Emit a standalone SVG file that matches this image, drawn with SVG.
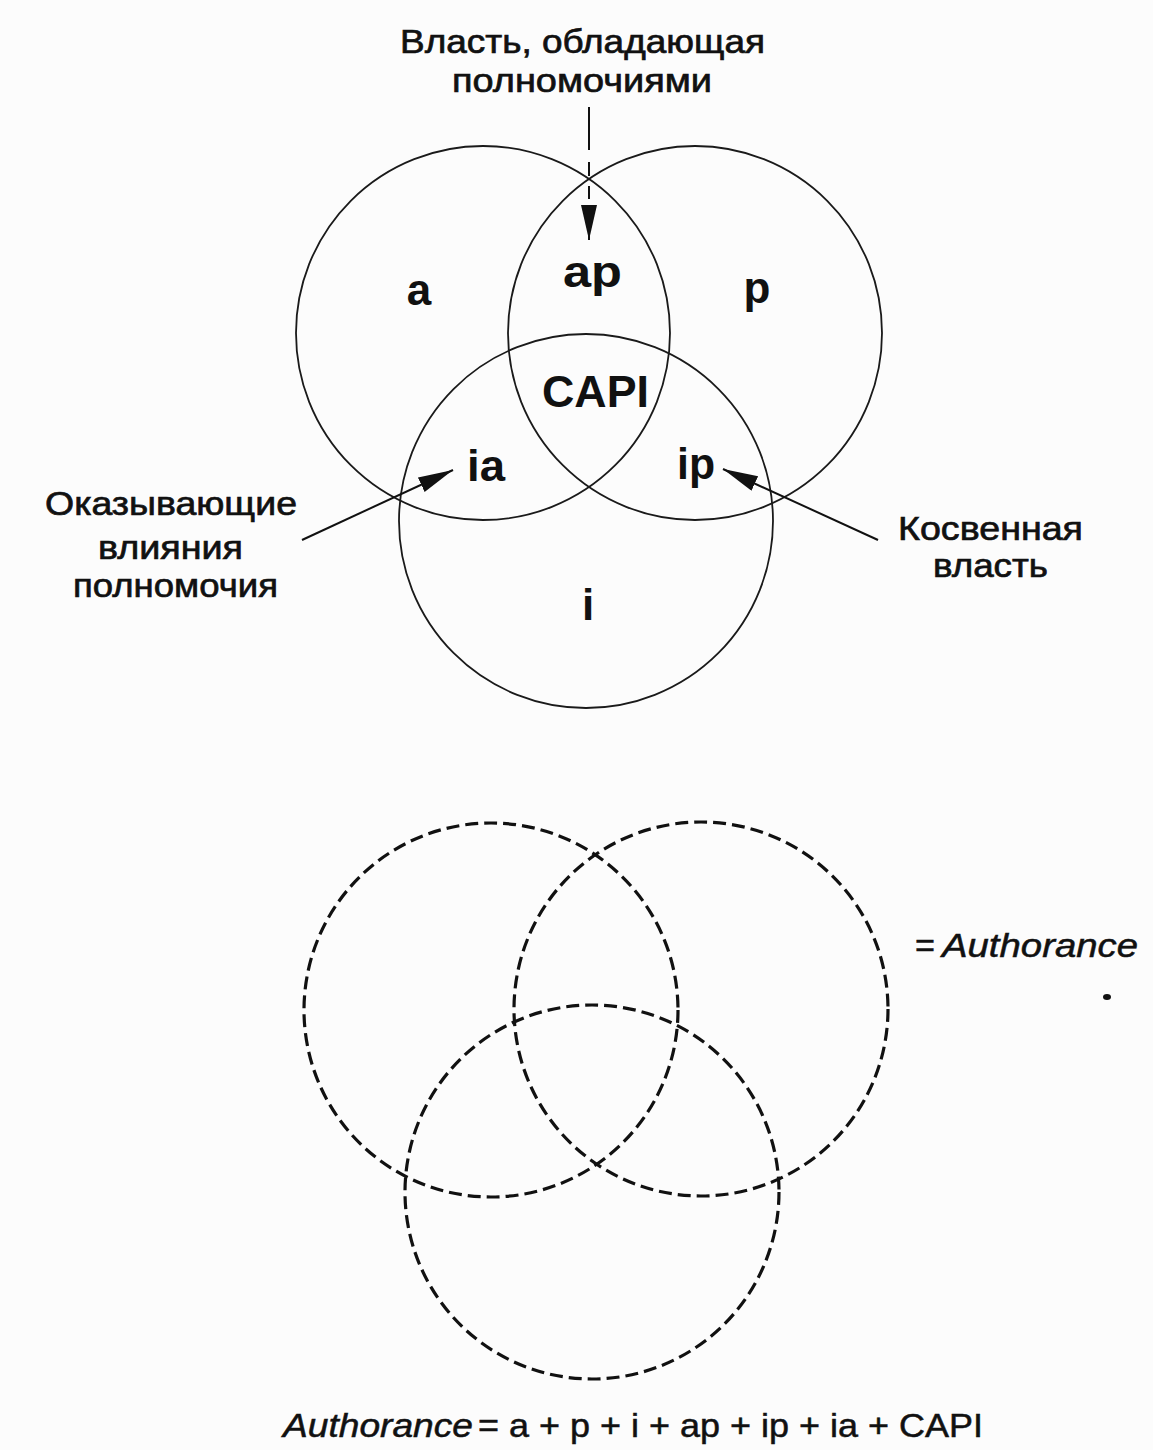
<svg xmlns="http://www.w3.org/2000/svg" width="1153" height="1450" viewBox="0 0 1153 1450">
<style>
  .bg { fill: #fcfcfc; }
  .solid { fill: none; stroke: #1a1a1a; stroke-width: 1.8; }
  .dash { fill: none; stroke: #111; stroke-width: 3.2; stroke-dasharray: 13 6; }
  .lbl { font-family: "Liberation Sans", Arial, sans-serif; font-size: 34px; fill: #111; stroke: #111; stroke-width: 0.7; }
  .big { font-family: "Liberation Sans", Arial, sans-serif; font-size: 44px; font-weight: bold; fill: #111; }
  .formula { font-family: "Liberation Sans", Arial, sans-serif; font-size: 33px; fill: #111; stroke: #111; stroke-width: 0.5; }
  .conn { fill: none; stroke: #111; stroke-width: 2; }
</style>
<defs>
  <marker id="ah" markerUnits="userSpaceOnUse" markerWidth="36" markerHeight="18" refX="35" refY="8" orient="auto">
    <path d="M0,0 L35,8 L0,16 Z" fill="#111"/>
  </marker>
</defs>
<rect class="bg" x="0" y="0" width="1153" height="1450"/>

<!-- Top Venn diagram -->
<g id="circle-a"><circle class="solid" cx="483" cy="333" r="187"/></g>
<g id="circle-p"><circle class="solid" cx="695" cy="333" r="187"/></g>
<g id="circle-i"><circle class="solid" cx="586" cy="521" r="187"/></g>

<g id="region-labels">
  <text class="big" x="419" y="305" text-anchor="middle">a</text>
  <text class="big" x="563" y="287" textLength="59" lengthAdjust="spacingAndGlyphs">ap</text>
  <text class="big" x="757" y="303" text-anchor="middle">p</text>
  <text class="big" x="542" y="407" textLength="107" lengthAdjust="spacingAndGlyphs">CAPI</text>
  <text class="big" x="467" y="481" textLength="38" lengthAdjust="spacingAndGlyphs">ia</text>
  <text class="big" x="677" y="479" textLength="38" lengthAdjust="spacingAndGlyphs">ip</text>
  <text class="big" x="588" y="620" text-anchor="middle">i</text>
</g>

<g id="label-top">
  <text class="lbl" x="400" y="53" textLength="365" lengthAdjust="spacingAndGlyphs">Власть, обладающая</text>
  <text class="lbl" x="452" y="92" textLength="260" lengthAdjust="spacingAndGlyphs">полномочиями</text>
</g>
<g id="label-left">
  <text class="lbl" x="45" y="515" textLength="252" lengthAdjust="spacingAndGlyphs">Оказывающие</text>
  <text class="lbl" x="98" y="559" textLength="145" lengthAdjust="spacingAndGlyphs">влияния</text>
  <text class="lbl" x="73" y="597" textLength="205" lengthAdjust="spacingAndGlyphs">полномочия</text>
</g>
<g id="label-right">
  <text class="lbl" x="898" y="540" textLength="185" lengthAdjust="spacingAndGlyphs">Косвенная</text>
  <text class="lbl" x="933" y="577" textLength="115" lengthAdjust="spacingAndGlyphs">власть</text>
</g>

<g id="connectors">
  <line class="conn" x1="589" y1="107" x2="589" y2="240" stroke-dasharray="43 12 14 10 13 6 60" marker-end="url(#ah)"/>
  <line class="conn" x1="302" y1="540" x2="453" y2="470" marker-end="url(#ah)"/>
  <line class="conn" x1="878" y1="540" x2="723" y2="469" marker-end="url(#ah)"/>
</g>

<!-- Bottom Venn diagram -->
<g id="dashed-circle-a"><circle class="dash" cx="491" cy="1010" r="187"/></g>
<g id="dashed-circle-p"><circle class="dash" cx="701" cy="1009" r="187"/></g>
<g id="dashed-circle-i"><circle class="dash" cx="592" cy="1192" r="187"/></g>

<g id="label-authorance">
  <text class="formula" x="915" y="957" font-size="36" textLength="20" lengthAdjust="spacingAndGlyphs">=</text>
  <text class="formula" x="942" y="957" font-size="36" font-style="italic" textLength="196" lengthAdjust="spacingAndGlyphs">Authorance</text>
  <ellipse cx="1107" cy="997" rx="4" ry="3" fill="#111"/>
</g>

<g id="formula">
  <text class="formula" x="283" y="1437" font-style="italic" textLength="190" lengthAdjust="spacingAndGlyphs">Authorance</text>
  <text class="formula" x="478" y="1437" textLength="505" lengthAdjust="spacingAndGlyphs">= a + p + i + ap + ip + ia + CAPI</text>
</g>
</svg>
